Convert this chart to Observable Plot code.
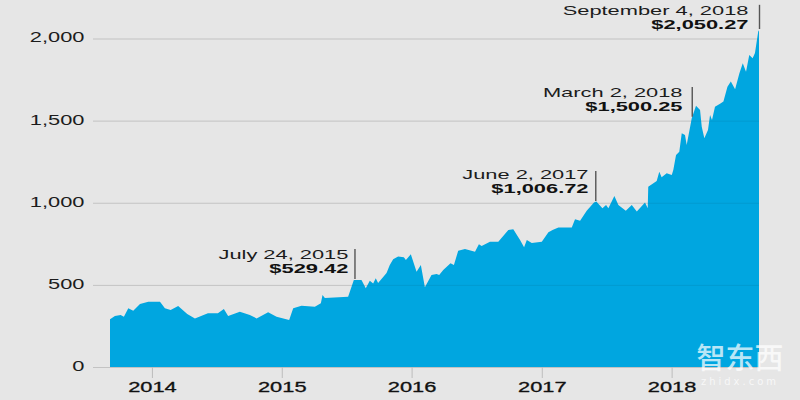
<!DOCTYPE html>
<html>
<head>
<meta charset="utf-8">
<script src="https://cdn.jsdelivr.net/npm/d3@7"></script>
<script src="https://cdn.jsdelivr.net/npm/@observablehq/plot@0.6"></script>
<style>
html,body{margin:0;padding:0;background:#e6e6e6;width:800px;height:400px;overflow:hidden}
#wrap{position:relative;width:800px;height:400px}
svg{display:block}
#mark{position:absolute;left:695px;top:342px;width:90px;text-align:center;color:#fff;opacity:.72;font-family:"Noto Sans CJK SC",sans-serif;line-height:1}
#mark .a{font-size:29px;font-weight:500}
#mark .b{font-size:10px;letter-spacing:3px;font-family:"DejaVu Sans";margin-top:6px}
</style>
</head>
<body>
<div id="wrap"><div id="chart"></div><div id="mark"><div class="a">智东西</div><div class="b">zhidx.com</div></div></div>
<script>
const years = [2013.677,2013.715,2013.759,2013.784,2013.818,2013.856,2013.908,2013.972,2014.062,2014.100,2014.144,2014.202,2014.272,2014.331,2014.431,2014.508,2014.554,2014.587,2014.677,2014.754,2014.806,2014.895,2014.960,2015.057,2015.088,2015.152,2015.255,2015.301,2015.314,2015.332,2015.511,2015.555,2015.614,2015.647,2015.678,2015.704,2015.724,2015.742,2015.807,2015.832,2015.858,2015.896,2015.940,2015.956,2015.994,2016.038,2016.071,2016.102,2016.153,2016.192,2016.212,2016.243,2016.299,2016.325,2016.358,2016.410,2016.487,2016.517,2016.538,2016.602,2016.666,2016.743,2016.781,2016.833,2016.864,2016.885,2016.923,2017.000,2017.051,2017.087,2017.128,2017.231,2017.256,2017.295,2017.346,2017.402,2017.420,2017.467,2017.495,2017.513,2017.559,2017.590,2017.647,2017.693,2017.732,2017.795,2017.816,2017.820,2017.885,2017.905,2017.923,2017.962,2018.001,2018.013,2018.034,2018.059,2018.078,2018.103,2018.116,2018.155,2018.188,2018.219,2018.232,2018.252,2018.280,2018.296,2018.311,2018.334,2018.373,2018.399,2018.430,2018.456,2018.489,2018.522,2018.548,2018.573,2018.598,2018.624,2018.642,2018.667,2018.673];
const prices = [290,310,316,306,357,343,383,398,398,358,347,371,323,296,327,327,353,310,337,317,296,333,306,286,357,373,367,388,438,420,428,530,530,479,525,509,540,511,572,621,656,672,668,652,686,580,621,485,560,566,560,591,631,621,708,718,702,747,737,763,763,834,838,773,729,773,755,763,820,836,850,850,899,890,952,1001,1007,966,987,966,1041,987,952,987,946,1001,966,1098,1133,1189,1155,1179,1169,1200,1291,1311,1423,1413,1352,1514,1590,1565,1463,1392,1443,1535,1504,1585,1602,1616,1707,1738,1691,1788,1849,1798,1900,1880,1912,2042,2050];
const noteYears = [2015.56,2017.412,2018.155,2018.673];
const noteLabelEnds = [2015.509,2017.356,2018.080,2018.588];
const noteLabelTops = [719,1207,1705,2205];
const noteDates = ["July 24, 2015","June 2, 2017","March 2, 2018","September 4, 2018"];
const notePrices = ["$529.42","$1,006.72","$1,500.25","$2,050.27"];
const noteBottoms = [536,1011,1523,2058];
const noteTops = [719,1194,1705,2205];
const yTicks = [0,500,1000,1500,2000];
const xTicks = [2014,2015,2016,2017,2018];

const toDate = y => {
  const w = Math.floor(y);
  const a = Date.UTC(w,0,1), b = Date.UTC(w+1,0,1);
  return new Date(a + (y-w)*(b-a));
};
const series = years.map((y,i)=>({date:toDate(y),price:prices[i]}));
const notes = noteYears.map((y,i)=>({date:toDate(y),end:toDate(noteLabelEnds[i]),label:noteDates[i],price:notePrices[i],y1:noteBottoms[i],y2:noteTops[i],ty:noteLabelTops[i]}));
const gridFrom = toDate(2013.546);
const gridTo = toDate(2018.673);

const chart = Plot.plot({
  width:800,height:400,
  marginLeft:93,marginRight:41,marginTop:38,marginBottom:33,
  style:{background:"#e6e6e6",fontFamily:"'Liberation Sans',Arial,sans-serif",overflow:"visible"},
  x:{type:"utc",axis:null,domain:[toDate(2013.677),toDate(2018.673)],range:[110,759]},
  y:{axis:null,domain:[0,2000],range:[367,38.5]},
  marks:[
    Plot.ruleY(yTicks,{x1:gridFrom,x2:gridTo,stroke:"#d2d2d2",strokeWidth:1}),
    Plot.areaY(series,{x:"date",y:"price",fill:"#00a6e0"}),
    Plot.ruleY(yTicks,{x1:gridFrom,x2:gridTo,stroke:"#000",strokeOpacity:0.07,strokeWidth:1}),
    Plot.text(yTicks,{x:gridFrom,y:d=>d,text:d3.format(","),textAnchor:"end",dx:-9,dy:-1,fontSize:14,fill:"#1c1c1c"}),
    Plot.ruleX(xTicks.map(toDate),{y1:0,y2:-67,stroke:"#bdbdbd",strokeWidth:1}),
    Plot.text(xTicks,{x:toDate,y:-122,text:d=>String(d),fontSize:14,fill:"#111",stroke:"#111",strokeWidth:0.3}),
    Plot.ruleX(notes,{x:"date",y1:"y1",y2:"y2",stroke:"#555",strokeWidth:1.4}),
    Plot.text(notes,{x:"end",y:"ty",text:"label",textAnchor:"end",lineAnchor:"bottom",dy:9.5,fontSize:13,fill:"#1c1c1c"}),
    Plot.text(notes,{x:"end",y:"ty",text:"price",textAnchor:"end",lineAnchor:"bottom",dy:23.5,fontSize:13,fontWeight:"bold",fill:"#111"})
  ]
});
document.getElementById("chart").append(chart);
const svg = document.querySelector("#chart svg");
svg.querySelectorAll("text").forEach(t=>{
  const w = t.getComputedTextLength();
  const k = t.getAttribute("font-size") === "13" || t.parentNode.getAttribute("font-size") === "13" ? 1.68 : 1.56;
  t.setAttribute("textLength",(w*k).toFixed(1));
  t.setAttribute("lengthAdjust","spacingAndGlyphs");
});
</script>
</body>
</html>
